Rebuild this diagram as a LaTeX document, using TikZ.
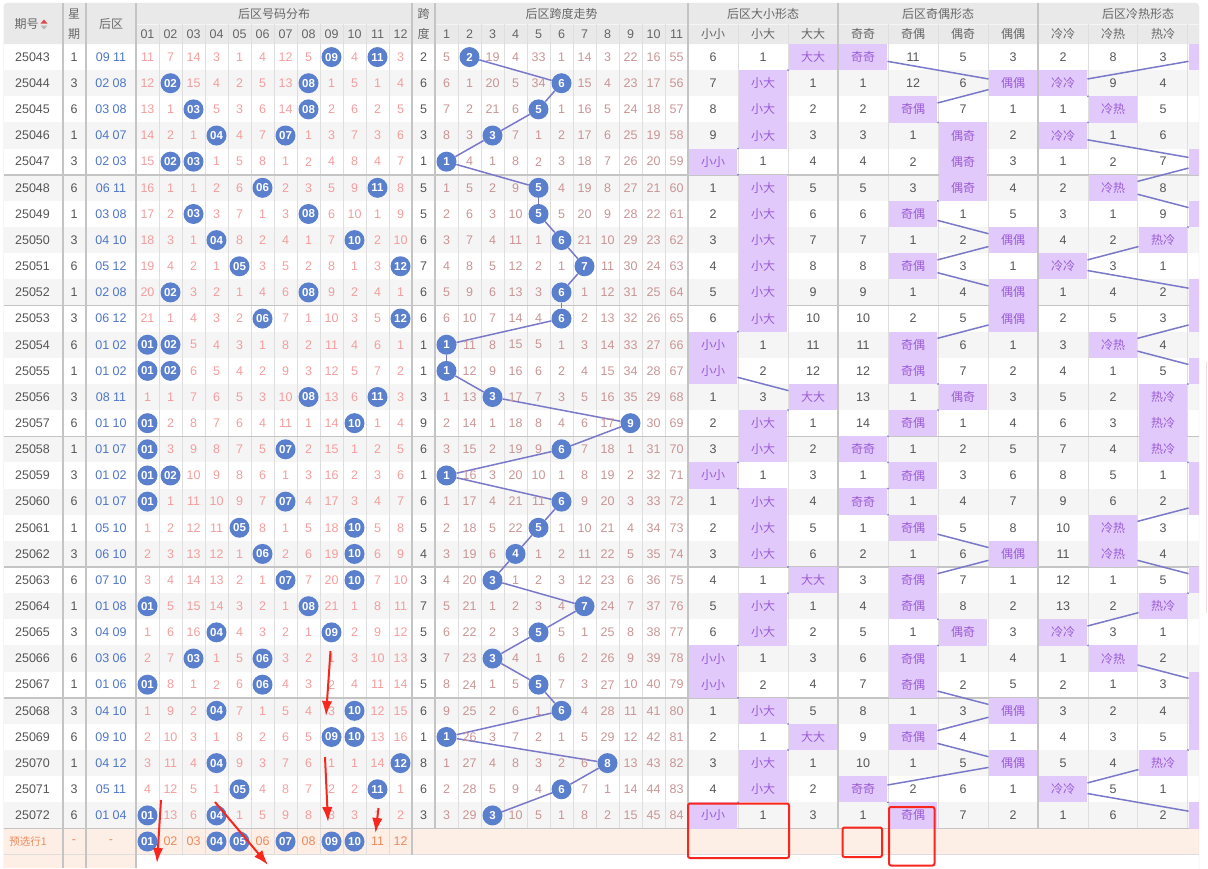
\documentclass[tikz,border=0pt]{standalone}
\usepackage{fontspec}
\setmainfont{Liberation Sans}
\newfontfamily\cjk{Noto Sans CJK SC}
\usepackage{tikz}
\usetikzlibrary{arrows.meta,positioning,calc}
\tikzset{>={Latex[length=15pt,width=10.5pt]}}

\definecolor{headbg}{HTML}{E9E9E9}
\definecolor{stripe}{HTML}{F5F5F5}
\definecolor{thinline}{HTML}{DEDEDE}
\definecolor{thickline}{HTML}{C4C4C4}
\definecolor{framegray}{HTML}{E2E2E2}
\definecolor{ballblue}{HTML}{5A7FCD}
\definecolor{misspink}{HTML}{F49D9D}
\definecolor{missrose}{HTML}{C99494}
\definecolor{linkblue}{HTML}{7A78C8}
\definecolor{hitfill}{HTML}{E1C9FB}
\definecolor{hittext}{HTML}{9B5CD6}
\definecolor{darktext}{HTML}{555555}
\definecolor{headtext}{HTML}{666666}
\definecolor{backblue}{HTML}{4E76C8}
\definecolor{predbg}{HTML}{FDEEE6}
\definecolor{predtext}{HTML}{EE8A5E}
\definecolor{markred}{HTML}{F8261C}
\definecolor{sortred}{HTML}{E04848}
\definecolor{sortgray}{HTML}{B8B8B8}
\definecolor{edgepink}{HTML}{F6DCDC}

\pgfdeclarelayer{grid}
\pgfdeclarelayer{links}
\pgfsetlayers{grid,links,main}

\tikzset{
  txt/.style={inner sep=0pt, text=darktext, font=\fontsize{12.5}{14}\selectfont},
  headtxt/.style={inner sep=0pt, text=headtext, font=\cjk\fontsize{12}{14}\selectfont},
  headnum/.style={inner sep=0pt, text=headtext, font=\fontsize{12.5}{14}\selectfont},
  miss/.style={txt, text=misspink},
  trendmiss/.style={txt, text=missrose},
  ball/.style={circle, fill=ballblue, text=white, inner sep=0pt, minimum size=20pt, font=\bfseries\fontsize{11.5}{14}\selectfont},
  hitcell/.style={rectangle, fill=hitfill, text=hittext, inner sep=0pt, minimum width=48.5pt, minimum height=26.3pt, font=\cjk\fontsize{12}{14}\selectfont},
  predtxt/.style={inner sep=0pt, text=predtext, font=\fontsize{12.5}{14}\selectfont},
  linkline/.style={draw=linkblue, line width=1.5pt},
  gridthin/.style={draw=thinline, line width=1pt},
  gridthick/.style={draw=thickline, line width=2pt},
  marker/.style={draw=markred, line width=2pt}
}

\begin{document}
\begin{tikzpicture}[x=1pt,y=-1pt]
    \useasboundingbox (0,0) rectangle (1208,868);

    % background, stripes and grid
    \begin{pgfonlayer}{grid}
        \fill[headbg] (4,44) [rounded corners=4pt] -- (4,3) -- (1199,3) [sharp corners] -- (1199,44) -- cycle;
        \foreach \i in {1,3,...,29}
            \fill[stripe] (4,{44+26.15*\i}) rectangle (1199,{44+26.15*(\i+1)});
        \fill[predbg] (4,828.5) rectangle (1199,854.65); % preselect row
        \fill[predbg] (4,854.65) rectangle (136,868);
        \draw[white!55!headbg] (136,24) -- (412,24) (435,24) -- (1199,24);
        \foreach \k in {1,...,11}
            \draw[gridthin] ({136+23*\k},24) -- ({136+23*\k},854.65);
        \foreach \k in {1,...,10}
            \draw[gridthin] ({435+23*\k},24) -- ({435+23*\k},828.5);
        \foreach \x in {738,788,888,938,988,1088,1137,1187}
            \draw[gridthin] (\x,24) -- (\x,828.5);
        \foreach \k in {1,...,6}
            \draw[gridthick, line width=1.5pt] (4,{44+26.15*5*\k}) -- (1199,{44+26.15*5*\k});
        \draw[gridthin] (4,854.65) -- (1199,854.65);
        \foreach \x in {62.7,86,136}
            \draw[gridthick] (\x,3) -- (\x,868);
        \draw[gridthick] (412,3) -- (412,854.65);
        \foreach \x in {435,688,838,1038}
            \draw[gridthick] (\x,3) -- (\x,828.5);
        \draw[framegray, rounded corners=4pt] (3.5,870) -- (3.5,3) -- (1199,3) -- (1199,870);
        \draw[edgepink, line width=1.5pt] (1206.5,362) -- (1206.5,613);
    \end{pgfonlayer}

    \begin{scope}
        \clip (0,0) rectangle (1199,868);

        % header
        \node[headtxt] (h-qh) at (26.5,24) {期号};
        \fill[sortred] (40.5,23.5) -- (47.5,23.5) -- (44,19.5) -- cycle;
        \fill[sortgray] (40.5,25.5) -- (47.5,25.5) -- (44,29.5) -- cycle;
        \node[headtxt] (h-xq1) at (74,14) {星};
        \node[headtxt] (h-xq2) at (74,34) {期};
        \node[headtxt] (h-hq) at (111,24) {后区};
        \node[headtxt] (h-fb) at (274,13.5) {后区号码分布};
        \foreach \c in {1,...,12}
            \node[headnum] (h-fb-\c) at ({124.5+23*\c},34) {\ifnum\c<10 0\fi\c};
        \node[headtxt] (h-kd1) at (423.5,14) {跨};
        \node[headtxt] (h-kd2) at (423.5,34) {度};
        \node[headtxt] (h-kz) at (561.5,13.5) {后区跨度走势};
        \foreach \c in {1,...,11}
            \node[headnum] (h-kz-\c) at ({423.5+23*\c},34) {\c};
        \node[headtxt] (h-dx) at (763,13.5) {后区大小形态};
        \node[headtxt] (h-jo) at (938,13.5) {后区奇偶形态};
        \node[headtxt] (h-lr) at (1138,13.5) {后区冷热形态};
        \foreach \t [count=\c] in {小小,小大,大大}
            \node[headtxt] (h-dx-\c) at ({663+50*\c},34) {\t};
        \foreach \t [count=\c] in {奇奇,奇偶,偶奇,偶偶}
            \node[headtxt] (h-jo-\c) at ({813+50*\c},34) {\t};
        \foreach \t [count=\c] in {冷冷,冷热,热冷}
            \node[headtxt] (h-lr-\c) at ({1013+50*\c},34) {\t};

        % draws: issue / weekday / back numbers / spread / shape misses (0 = hit)
        \foreach \qh/\xq/\hq/\fb/\kd/\kz/\dx/\jo/\lr [count=\i from 0] in {
            25043/1/09 11/{11,7,14,3,1,4,12,5,0,4,0,3}/2/{5,0,19,4,33,1,14,3,22,16,55}/{6,1,0}/{0,11,5,3}/{2,8,3,0},
            25044/3/02 08/{12,0,15,4,2,5,13,0,1,5,1,4}/6/{6,1,20,5,34,0,15,4,23,17,56}/{7,0,1}/{1,12,6,0}/{0,9,4,1},
            25045/6/03 08/{13,1,0,5,3,6,14,0,2,6,2,5}/5/{7,2,21,6,0,1,16,5,24,18,57}/{8,0,2}/{2,0,7,1}/{1,0,5,2},
            25046/1/04 07/{14,2,1,0,4,7,0,1,3,7,3,6}/3/{8,3,0,7,1,2,17,6,25,19,58}/{9,0,3}/{3,1,0,2}/{0,1,6,3},
            25047/3/02 03/{15,0,0,1,5,8,1,2,4,8,4,7}/1/{0,4,1,8,2,3,18,7,26,20,59}/{0,1,4}/{4,2,0,3}/{1,2,7,0},
            25048/6/06 11/{16,1,1,2,6,0,2,3,5,9,0,8}/5/{1,5,2,9,0,4,19,8,27,21,60}/{1,0,5}/{5,3,0,4}/{2,0,8,1},
            25049/1/03 08/{17,2,0,3,7,1,3,0,6,10,1,9}/5/{2,6,3,10,0,5,20,9,28,22,61}/{2,0,6}/{6,0,1,5}/{3,1,9,0},
            25050/3/04 10/{18,3,1,0,8,2,4,1,7,0,2,10}/6/{3,7,4,11,1,0,21,10,29,23,62}/{3,0,7}/{7,1,2,0}/{4,2,0,1},
            25051/6/05 12/{19,4,2,1,0,3,5,2,8,1,3,0}/7/{4,8,5,12,2,1,0,11,30,24,63}/{4,0,8}/{8,0,3,1}/{0,3,1,2},
            25052/1/02 08/{20,0,3,2,1,4,6,0,9,2,4,1}/6/{5,9,6,13,3,0,1,12,31,25,64}/{5,0,9}/{9,1,4,0}/{1,4,2,0},
            25053/3/06 12/{21,1,4,3,2,0,7,1,10,3,5,0}/6/{6,10,7,14,4,0,2,13,32,26,65}/{6,0,10}/{10,2,5,0}/{2,5,3,0},
            25054/6/01 02/{0,0,5,4,3,1,8,2,11,4,6,1}/1/{0,11,8,15,5,1,3,14,33,27,66}/{0,1,11}/{11,0,6,1}/{3,0,4,1},
            25055/1/01 02/{0,0,6,5,4,2,9,3,12,5,7,2}/1/{0,12,9,16,6,2,4,15,34,28,67}/{0,2,12}/{12,0,7,2}/{4,1,5,0},
            25056/3/08 11/{1,1,7,6,5,3,10,0,13,6,0,3}/3/{1,13,0,17,7,3,5,16,35,29,68}/{1,3,0}/{13,1,0,3}/{5,2,0,1},
            25057/6/01 10/{0,2,8,7,6,4,11,1,14,0,1,4}/9/{2,14,1,18,8,4,6,17,0,30,69}/{2,0,1}/{14,0,1,4}/{6,3,0,2},
            25058/1/01 07/{0,3,9,8,7,5,0,2,15,1,2,5}/6/{3,15,2,19,9,0,7,18,1,31,70}/{3,0,2}/{0,1,2,5}/{7,4,0,3},
            25059/3/01 02/{0,0,10,9,8,6,1,3,16,2,3,6}/1/{0,16,3,20,10,1,8,19,2,32,71}/{0,1,3}/{1,0,3,6}/{8,5,1,0},
            25060/6/01 07/{0,1,11,10,9,7,0,4,17,3,4,7}/6/{1,17,4,21,11,0,9,20,3,33,72}/{1,0,4}/{0,1,4,7}/{9,6,2,0},
            25061/1/05 10/{1,2,12,11,0,8,1,5,18,0,5,8}/5/{2,18,5,22,0,1,10,21,4,34,73}/{2,0,5}/{1,0,5,8}/{10,0,3,1},
            25062/3/06 10/{2,3,13,12,1,0,2,6,19,0,6,9}/4/{3,19,6,0,1,2,11,22,5,35,74}/{3,0,6}/{2,1,6,0}/{11,0,4,2},
            25063/6/07 10/{3,4,14,13,2,1,0,7,20,0,7,10}/3/{4,20,0,1,2,3,12,23,6,36,75}/{4,1,0}/{3,0,7,1}/{12,1,5,0},
            25064/1/01 08/{0,5,15,14,3,2,1,0,21,1,8,11}/7/{5,21,1,2,3,4,0,24,7,37,76}/{5,0,1}/{4,0,8,2}/{13,2,0,1},
            25065/3/04 09/{1,6,16,0,4,3,2,1,0,2,9,12}/5/{6,22,2,3,0,5,1,25,8,38,77}/{6,0,2}/{5,1,0,3}/{0,3,1,2},
            25066/6/03 06/{2,7,0,1,5,0,3,2,1,3,10,13}/3/{7,23,0,4,1,6,2,26,9,39,78}/{0,1,3}/{6,0,1,4}/{1,0,2,3},
            25067/1/01 06/{0,8,1,2,6,0,4,3,2,4,11,14}/5/{8,24,1,5,0,7,3,27,10,40,79}/{0,2,4}/{7,0,2,5}/{2,1,3,0},
            25068/3/04 10/{1,9,2,0,7,1,5,4,3,0,12,15}/6/{9,25,2,6,1,0,4,28,11,41,80}/{1,0,5}/{8,1,3,0}/{3,2,4,0},
            25069/6/09 10/{2,10,3,1,8,2,6,5,0,0,13,16}/1/{0,26,3,7,2,1,5,29,12,42,81}/{2,1,0}/{9,0,4,1}/{4,3,5,0},
            25070/1/04 12/{3,11,4,0,9,3,7,6,1,1,14,0}/8/{1,27,4,8,3,2,6,0,13,43,82}/{3,0,1}/{10,1,5,0}/{5,4,0,1},
            25071/3/05 11/{4,12,5,1,0,4,8,7,2,2,0,1}/6/{2,28,5,9,4,0,7,1,14,44,83}/{4,0,2}/{0,2,6,1}/{0,5,1,2},
            25072/6/01 04/{0,13,6,0,1,5,9,8,3,3,1,2}/3/{3,29,0,10,5,1,8,2,15,45,84}/{0,1,3}/{1,0,7,2}/{1,6,2,0}}{
            \pgfmathsetmacro\yy{57.075+26.15*\i}
            \node[txt] (qh-\i) at (32.5,\yy) {\qh};
            \node[txt] (xq-\i) at (74,\yy) {\xq};
            \node[txt, text=backblue] (hq-\i) at (111,\yy) {\hq};
            \node[txt] (span-\i) at (423.5,\yy) {\kd};
            \foreach \v [count=\c] in \fb {
                \ifnum\v=0\relax
                    \node[ball] (fb-\i-\c) at ({124.5+23*\c},\yy) {\ifnum\c<10 0\fi\c}; % drawn number
                \else
                    \node[miss] (fbm-\i-\c) at ({124.5+23*\c},\yy) {\v};
                \fi
            }
            \foreach \v [count=\c] in \kz {
                \ifnum\v=0\relax
                    \node[ball] (kd-\i) at ({423.5+23*\c},\yy) {\c}; % spread of the draw
                \else
                    \node[trendmiss] (kzm-\i-\c) at ({423.5+23*\c},\yy) {\v};
                \fi
            }
            \foreach \v [count=\c] in \dx {
                \ifnum\v=0\relax
                    \node[hitcell] (dx-\i) at ({663+50*\c},\yy) {\ifcase\c\or 小小\or 小大\or 大大\fi};
                \else
                    \node[txt] (dxm-\i-\c) at ({663+50*\c},\yy) {\v};
                \fi
            }
            \foreach \v [count=\c] in \jo {
                \ifnum\v=0\relax
                    \node[hitcell] (jo-\i) at ({813+50*\c},\yy) {\ifcase\c\or 奇奇\or 奇偶\or 偶奇\or 偶偶\fi};
                \else
                    \node[txt] (jom-\i-\c) at ({813+50*\c},\yy) {\v};
                \fi
            }
            \foreach \v [count=\c] in \lr {
                \ifnum\v=0\relax
                    \node[hitcell] (lr-\i) at ({1013+50*\c},\yy) {\ifcase\c\or 冷冷\or 冷热\or 热冷\fi}; % 4th column cut by the frame
                \else
                    \ifnum\c<4 \node[txt] (lrm-\i-\c) at ({1013+50*\c},\yy) {\v};\fi
                \fi
            }
            \ifnum\i>0
                \pgfmathtruncatemacro\pr{\i-1}
                \begin{pgfonlayer}{links}
                    \draw[linkline] (kd-\pr) -- (kd-\i);
                    \draw[linkline] (dx-\pr) -- (dx-\i);
                    \draw[linkline] (jo-\pr) -- (jo-\i);
                    \draw[linkline] (lr-\pr) -- (lr-\i);
                \end{pgfonlayer}
            \fi
        }

        % preselect row
        \node[inner sep=0pt, text=predtext, font=\cjk\fontsize{10.5}{12}\selectfont] (pre) at (28,841.5) {预选行1};
        \node[predtxt] (pre-xq) at (74,841.5) {-};
        \node[predtxt] (pre-hq) at (111,841.5) {-};
        \foreach \b [count=\c] in {1,0,0,1,1,0,1,0,1,1,0,0} {
            \ifnum\b=1
                \node[ball] (pb-\c) at ({124.5+23*\c},841.5) {\ifnum\c<10 0\fi\c};
            \else
                \node[predtxt] (pb-\c) at ({124.5+23*\c},841.5) {\ifnum\c<10 0\fi\c};
            \fi
        }
    \end{scope}

    % red marks
    \coordinate (a1s) at (330.5,651);  \coordinate (a1e) at (326,716);
    \coordinate (a2s) at (325,757);    \coordinate (a2e) at (328,822);
    \coordinate (a3s) at (378.5,808);  \coordinate (a3e) at (375.5,833);
    \coordinate (a4s) at (161,800);    \coordinate (a4e) at (157,863);
    \coordinate (a5s) at (215,802);    \coordinate (a5e) at (268,865);
    \foreach \k in {1,...,5}
        \draw[marker,->] (a\k s) -- (a\k e);
    \draw[marker, rounded corners=2pt] (688,803.5) rectangle (789,858);
    \draw[marker, rounded corners=2pt] (842.5,827.5) rectangle (882,857);
    \draw[marker, rounded corners=2pt] (889,807) rectangle (934.5,865.5);
\end{tikzpicture}
\end{document}
